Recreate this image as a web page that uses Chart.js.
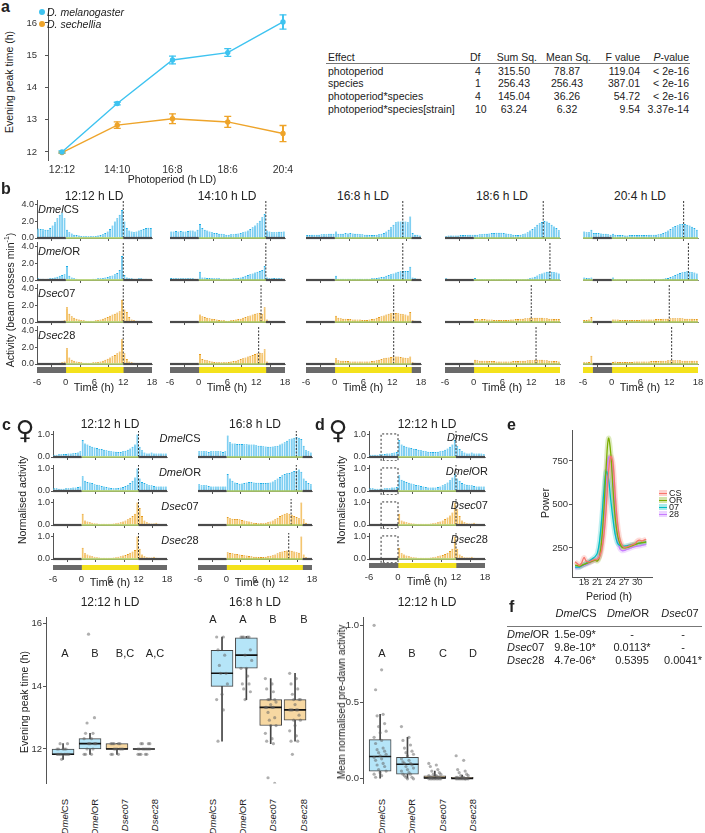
<!DOCTYPE html>
<html>
<head>
<meta charset="utf-8">
<script src="https://cdn.jsdelivr.net/npm/chart.js@4.4.1/dist/chart.umd.min.js"></script>
<style>
  body{margin:0;width:705px;height:833px;position:relative;overflow:hidden;background:#fff;
       font-family:"Liberation Sans",Arial,sans-serif;color:#222}
  canvas{position:absolute}
  .t{position:absolute;white-space:nowrap;line-height:1}
  .v{position:absolute;white-space:nowrap;line-height:1;writing-mode:vertical-rl}
</style>
</head>
<body>
<script>
/* ===========================
   DATA : PANEL A
=========================== */
const photoperiods = ['12:12','14:10','16:8','18:6','20:4'];
const melPeak = [12.0, 13.5, 14.85, 15.08, 16.03];
const melSem  = [0.03, 0.04, 0.12, 0.12, 0.22];
const secPeak = [11.98, 12.83, 13.03, 12.93, 12.57];
const secSem  = [0.02, 0.10, 0.15, 0.17, 0.25];

const anovaRows = [
  ['photoperiod','4','315.50','78.87','119.04','&lt; 2e-16'],
  ['species','1','256.43','256.43','387.01','&lt; 2e-16'],
  ['photoperiod*species','4','145.04','36.26','54.72','&lt; 2e-16'],
  ['photoperiod*species[strain]','10','63.24','6.32','9.54','3.37e-14']
];

/* ===========================
   DATA : PANEL B (30 min bins, -6 h .. 18 h)
=========================== */
const strains = ['<i>Dmel</i>CS','<i>Dmel</i>OR','<i>Dsec</i>07','<i>Dsec</i>28'];
const timeTicks = [-6, 0, 6, 12, 18];
const binMid = Array.from({length: 48}, (_, i) => -5.75 + i * 0.5);

const bCS12 = [1.15,1.1,1.05,1.0,1.0,1.2,1.5,1.9,2.4,2.8,3.0,2.4, 1.0,0.7,0.55,0.4,0.35,0.3,0.25,0.2,0.2,0.2,0.2,0.2, 0.25,0.3,0.35,0.45,0.6,0.8,1.1,1.5,2.0,2.4,2.8,3.4, 2.0,1.2,0.9,0.8,0.7,0.8,0.9,1.0,1.1,1.2,1.25,1.2];
const bCS14 = [0.8,0.8,0.85,0.8,0.85,0.8,0.8,0.85,0.9,0.9,0.8,1.0, 1.7,1.2,1.0,0.9,0.8,0.7,0.6,0.6,0.5,0.5,0.45,0.4, 0.4,0.45,0.45,0.5,0.55,0.6,0.7,0.8,0.9,1.1,1.3,1.5, 1.8,2.1,2.5,2.9,0.9,0.8,0.7,0.7,0.7,0.75,0.75,0.8];
const bCS16 = [0.35,0.35,0.4,0.4,0.4,0.4,0.45,0.45,0.45,0.5,0.5,0.5, 0.8,0.5,0.5,0.5,0.6,0.55,0.6,0.55,0.5,0.5,0.45,0.45, 0.4,0.4,0.35,0.35,0.35,0.4,0.45,0.5,0.6,0.8,1.0,1.3, 1.6,1.9,2.0,2.0,2.0,2.0,1.9,2.6,0.6,0.4,0.4,0.3];
const bCS18 = [0.2,0.3,0.3,0.3,0.3,0.3,0.35,0.35,0.35,0.4,0.4,0.4, 0.4,0.4,0.45,0.45,0.5,0.5,0.55,0.6,0.6,0.65,0.65,0.65, 0.6,0.55,0.5,0.45,0.4,0.35,0.35,0.4,0.45,0.55,0.7,0.9, 1.1,1.3,1.6,1.8,1.95,2.05,2.0,1.85,1.6,1.4,1.2,0.95];
const bCS20 = [0.8,0.7,0.7,1.0,0.6,0.6,0.6,0.55,0.5,0.5,0.45,0.4, 0.5,0.4,0.35,0.35,0.35,0.3,0.3,0.35,0.35,0.35,0.35,0.35, 0.35,0.35,0.35,0.4,0.4,0.4,0.4,0.45,0.5,0.6,0.75,0.9, 1.1,1.3,1.45,1.55,1.65,1.7,1.7,1.6,1.5,1.35,1.2,1.0];

const bOR12 = [0.2,0.15,0.15,0.1,0.15,0.2,0.25,0.3,0.4,0.5,0.6,0.7, 1.7,0.5,0.3,0.2,0.15,0.1,0.1,0.1,0.1,0.1,0.1,0.15, 0.15,0.2,0.2,0.25,0.3,0.35,0.45,0.55,0.7,0.85,1.2,2.9, 0.6,0.3,0.2,0.2,0.15,0.15,0.2,0.2,0.15,0.15,0.1,0.1];
const bOR14 = [0.25,0.2,0.2,0.2,0.2,0.2,0.2,0.2,0.2,0.2,0.15,0.15, 1.0,0.3,0.3,0.25,0.25,0.2,0.2,0.2,0.2,0.15,0.15,0.15, 0.15,0.15,0.2,0.2,0.25,0.3,0.4,0.5,0.6,0.7,0.8,0.9, 1.0,1.1,1.2,1.7,0.3,0.2,0.2,0.25,0.2,0.2,0.2,0.15];
const bOR16 = [0.1,0.1,0.1,0.1,0.1,0.1,0.1,0.1,0.1,0.1,0.1,0.1, 0.5,0.15,0.15,0.15,0.15,0.15,0.15,0.15,0.15,0.15,0.15,0.15, 0.15,0.15,0.15,0.2,0.2,0.25,0.3,0.35,0.4,0.5,0.6,0.7, 0.8,0.9,1.0,1.05,1.1,1.1,1.1,1.6,0.3,0.2,0.15,0.1];
const bOR18 = [0.2,0.05,0.05,0.05,0.05,0.05,0.05,0.05,0.05,0.05,0.05,0.05, 0.25,0.1,0.1,0.1,0.1,0.1,0.1,0.1,0.1,0.1,0.1,0.1, 0.1,0.1,0.1,0.1,0.1,0.1,0.1,0.1,0.1,0.1,0.15,0.2, 0.3,0.4,0.55,0.7,0.8,0.9,1.0,1.0,1.0,0.95,0.9,0.8];
const bOR20 = [0.3,0.25,0.2,0.3,0.1,0.1,0.1,0.1,0.1,0.1,0.1,0.1, 0.3,0.1,0.1,0.1,0.1,0.1,0.1,0.1,0.1,0.1,0.1,0.1, 0.1,0.1,0.1,0.1,0.1,0.1,0.1,0.1,0.1,0.15,0.2,0.25, 0.35,0.45,0.6,0.75,0.85,0.95,1.0,1.05,1.0,0.95,0.9,0.8];

const bS07_12 = [0.1,0.1,0.1,0.1,0.1,0.1,0.1,0.1,0.1,0.1,0.15,0.2, 1.8,1.0,0.7,0.5,0.4,0.3,0.25,0.2,0.15,0.15,0.15,0.15, 0.2,0.25,0.3,0.4,0.5,0.6,0.75,0.9,1.0,1.15,1.3,2.7, 1.5,1.2,0.6,0.3,0.2,0.15,0.1,0.1,0.1,0.1,0.1,0.1];
const bS07_14 = [0.1,0.1,0.1,0.1,0.1,0.1,0.1,0.1,0.1,0.1,0.1,0.1, 0.9,0.7,0.6,0.5,0.45,0.4,0.35,0.3,0.25,0.2,0.2,0.15, 0.15,0.2,0.25,0.3,0.35,0.4,0.5,0.6,0.7,0.8,0.9,1.0, 1.05,1.1,1.0,1.8,0.3,0.15,0.1,0.1,0.1,0.1,0.1,0.1];
const bS07_16 = [0.1,0.1,0.1,0.1,0.1,0.1,0.1,0.1,0.1,0.1,0.1,0.1, 0.75,0.5,0.45,0.4,0.4,0.35,0.35,0.3,0.3,0.3,0.3,0.25, 0.25,0.25,0.3,0.35,0.4,0.5,0.6,0.7,0.8,0.9,1.0,1.05, 1.1,1.1,1.05,1.0,0.95,0.9,0.8,1.2,0.2,0.15,0.1,0.1];
const bS07_18 = [0.1,0.05,0.05,0.05,0.05,0.05,0.05,0.05,0.05,0.05,0.05,0.05, 0.35,0.35,0.3,0.35,0.35,0.3,0.3,0.3,0.25,0.25,0.25,0.25, 0.25,0.25,0.25,0.3,0.3,0.35,0.35,0.4,0.4,0.45,0.45,0.5, 0.5,0.5,0.5,0.5,0.5,0.45,0.45,0.4,0.4,0.35,0.35,0.35];
const bS07_20 = [0.25,0.25,0.3,0.6,0.05,0.05,0.05,0.05,0.05,0.05,0.05,0.05, 0.3,0.3,0.3,0.25,0.25,0.25,0.25,0.25,0.25,0.25,0.25,0.25, 0.3,0.3,0.3,0.3,0.3,0.3,0.35,0.35,0.35,0.4,0.4,0.4, 0.45,0.45,0.45,0.45,0.45,0.45,0.4,0.4,0.4,0.4,0.35,0.35];

const bS28_12 = [0.1,0.1,0.1,0.1,0.1,0.1,0.1,0.1,0.1,0.15,0.2,0.3, 1.9,0.8,0.5,0.4,0.3,0.25,0.2,0.15,0.15,0.15,0.15,0.2, 0.2,0.25,0.3,0.4,0.5,0.65,0.8,0.95,1.1,1.3,1.5,3.0, 1.3,0.6,0.3,0.2,0.15,0.1,0.1,0.1,0.1,0.1,0.1,0.1];
const bS28_14 = [0.1,0.1,0.1,0.1,0.1,0.1,0.1,0.1,0.1,0.1,0.1,0.15, 1.2,0.6,0.5,0.45,0.4,0.3,0.25,0.2,0.2,0.2,0.2,0.2, 0.25,0.3,0.35,0.4,0.5,0.6,0.7,0.8,0.9,1.0,1.1,1.2, 1.3,1.35,1.3,1.8,0.3,0.15,0.1,0.1,0.1,0.1,0.1,0.1];
const bS28_16 = [0.1,0.1,0.1,0.1,0.1,0.1,0.1,0.1,0.1,0.1,0.1,0.1, 0.7,0.45,0.4,0.4,0.35,0.35,0.3,0.3,0.3,0.3,0.3,0.3, 0.3,0.3,0.3,0.35,0.4,0.45,0.5,0.6,0.7,0.75,0.8,0.85, 0.9,0.9,0.9,0.85,0.8,0.75,0.7,0.9,0.2,0.15,0.1,0.1];
const bS28_18 = [0.1,0.1,0.1,0.1,0.1,0.1,0.1,0.1,0.1,0.1,0.1,0.1, 0.5,0.45,0.4,0.4,0.4,0.4,0.35,0.35,0.35,0.3,0.3,0.3, 0.3,0.3,0.3,0.3,0.35,0.35,0.35,0.4,0.4,0.4,0.45,0.45, 0.45,0.5,0.5,0.5,0.5,0.45,0.45,0.4,0.4,0.35,0.35,0.3];
const bS28_20 = [0.2,0.2,0.25,1.0,0.05,0.05,0.05,0.05,0.05,0.05,0.05,0.05, 0.25,0.3,0.25,0.25,0.25,0.25,0.25,0.25,0.25,0.3,0.3,0.3, 0.3,0.3,0.3,0.3,0.35,0.35,0.35,0.35,0.4,0.4,0.4,0.45, 0.45,0.45,0.45,0.45,0.45,0.4,0.4,0.4,0.4,0.4,0.4,0.4];

// evening peak (dashed line), one array per strain, one value per photoperiod
const bPeakCS = [12, 14.0, 14.2, 14.5, 15.0];
const bPeakOR = [12, 14.0, 14.2, 15.9, 16.0];
const bPeak07 = [12, 13.0, 12.3, 12.0, 12.0];
const bPeak28 = [12, 12.5, 12.3, 13.0, 12.5];

// light (1) / dark (0) segments
const ldSegs = {
  '12:12': [[-6,0,0],[0,12,1],[12,18,0]],
  '14:10': [[-6,0,0],[0,14,1],[14,18,0]],
  '16:8':  [[-6,0,0],[0,16,1],[16,18,0]],
  '18:6':  [[-6,0,0],[0,18,1]],
  '20:4':  [[-6,-4,1],[-4,0,0],[0,18,1]]
};

/* ===========================
   DATA : PANEL C / D (normalised, females)
=========================== */
const cCS12 = [0.1,0.1,0.12,0.12,0.13,0.13,0.15,0.15,0.17,0.18,0.2,0.25, 0.75,0.6,0.55,0.5,0.45,0.42,0.4,0.37,0.35,0.32,0.3,0.28, 0.25,0.24,0.23,0.22,0.22,0.25,0.28,0.32,0.38,0.45,0.55,1.0, 0.45,0.3,0.2,0.15,0.15,0.2,0.15,0.15,0.15,0.15,0.15,0.15];
const cOR12 = [0.12,0.12,0.1,0.1,0.1,0.12,0.12,0.12,0.15,0.15,0.18,0.2, 0.65,0.45,0.4,0.38,0.35,0.3,0.28,0.25,0.22,0.2,0.18,0.15, 0.13,0.12,0.12,0.13,0.15,0.18,0.22,0.28,0.35,0.45,0.6,1.0, 0.55,0.4,0.35,0.3,0.25,0.25,0.22,0.2,0.2,0.2,0.2,0.2];
const c07_12 = [0.03,0.03,0.03,0.03,0.03,0.03,0.03,0.03,0.03,0.03,0.03,0.03, 0.5,0.2,0.15,0.12,0.1,0.08,0.07,0.06,0.05,0.05,0.05,0.05, 0.06,0.07,0.08,0.1,0.12,0.15,0.2,0.25,0.32,0.4,0.5,1.0, 0.75,0.4,0.2,0.12,0.08,0.07,0.07,0.1,0.05,0.04,0.03,0.03];
const c28_12 = [0.03,0.03,0.03,0.03,0.03,0.03,0.03,0.03,0.03,0.03,0.04,0.05, 0.5,0.25,0.2,0.15,0.12,0.1,0.08,0.07,0.06,0.05,0.05,0.05, 0.06,0.07,0.08,0.1,0.12,0.15,0.18,0.22,0.28,0.33,0.4,1.0, 0.45,0.2,0.12,0.08,0.07,0.07,0.1,0.05,0.04,0.03,0.03,0.03];
const cCS16 = [0.25,0.25,0.25,0.25,0.22,0.25,0.25,0.25,0.25,0.25,0.22,0.25, 0.95,0.65,0.6,0.6,0.58,0.58,0.57,0.56,0.56,0.55,0.55,0.55, 0.52,0.5,0.5,0.48,0.46,0.45,0.45,0.46,0.48,0.5,0.55,0.6, 0.65,0.72,0.78,0.82,0.85,0.88,0.85,0.8,0.5,0.3,0.25,0.2];
const cOR16 = [0.3,0.25,0.25,0.25,0.22,0.2,0.2,0.2,0.2,0.2,0.2,0.2, 0.75,0.55,0.45,0.38,0.35,0.32,0.33,0.35,0.38,0.4,0.4,0.38, 0.37,0.36,0.35,0.35,0.35,0.36,0.38,0.42,0.48,0.55,0.62,0.7, 0.75,0.78,0.8,0.85,0.88,0.9,0.95,0.85,0.55,0.45,0.35,0.3];
const c07_16 = [0.03,0.03,0.03,0.03,0.03,0.03,0.03,0.03,0.03,0.03,0.03,0.03, 0.35,0.3,0.28,0.27,0.27,0.25,0.22,0.2,0.17,0.15,0.12,0.1, 0.09,0.08,0.08,0.08,0.1,0.12,0.15,0.2,0.25,0.32,0.4,0.45, 0.5,0.52,0.5,0.45,0.4,0.35,0.3,1.0,0.25,0.1,0.05,0.03];
const c28_16 = [0.04,0.04,0.04,0.04,0.04,0.04,0.04,0.04,0.04,0.04,0.04,0.04, 0.3,0.27,0.25,0.23,0.22,0.2,0.18,0.17,0.15,0.13,0.12,0.1, 0.1,0.09,0.09,0.09,0.1,0.12,0.14,0.17,0.2,0.25,0.3,0.33, 0.35,0.38,0.38,0.36,0.33,0.3,0.28,1.0,0.2,0.08,0.05,0.04];
const cPeak12 = [12, 12, 12, 12];
const cPeak16 = [14.7, 14.7, 13.6, 13.1];

const dCS12 = [0.1,0.1,0.1,0.1,0.12,0.12,0.13,0.15,0.15,0.17,0.2,0.22, 0.75,0.55,0.5,0.45,0.42,0.4,0.37,0.35,0.32,0.3,0.28,0.25, 0.23,0.22,0.22,0.22,0.23,0.25,0.28,0.32,0.38,0.45,0.55,0.75, 0.5,0.35,0.25,0.2,0.15,0.15,0.2,0.15,0.15,0.15,0.15,0.12];
const dOR12 = [0.12,0.12,0.1,0.1,0.1,0.1,0.12,0.12,0.12,0.15,0.15,0.18, 0.7,0.5,0.45,0.4,0.37,0.33,0.3,0.27,0.25,0.22,0.2,0.18, 0.16,0.15,0.15,0.16,0.18,0.2,0.25,0.3,0.38,0.48,0.6,0.75, 0.55,0.45,0.35,0.3,0.28,0.25,0.25,0.22,0.2,0.2,0.2,0.2];
const d07_12 = [0.03,0.03,0.03,0.03,0.03,0.03,0.03,0.03,0.03,0.03,0.03,0.03, 0.5,0.2,0.15,0.12,0.1,0.08,0.07,0.06,0.05,0.05,0.05,0.05, 0.06,0.07,0.08,0.1,0.12,0.15,0.2,0.26,0.33,0.42,0.55,1.0, 0.7,0.4,0.2,0.12,0.08,0.07,0.07,0.1,0.05,0.04,0.03,0.03];
const d28_12 = [0.03,0.03,0.03,0.03,0.03,0.03,0.03,0.03,0.03,0.03,0.04,0.05, 0.5,0.25,0.2,0.15,0.12,0.1,0.08,0.07,0.06,0.05,0.05,0.05, 0.06,0.07,0.08,0.1,0.12,0.15,0.18,0.22,0.28,0.35,0.45,1.0, 0.45,0.2,0.12,0.08,0.07,0.07,0.1,0.05,0.04,0.03,0.03,0.03];
const preDawn = [-3.5, 0];

/* ===========================
   DATA : BOXPLOTS  [lower whisker, q1, median, q3, upper whisker]
=========================== */
const boxCats = ['<i>Dmel</i>CS','<i>Dmel</i>OR','<i>Dsec</i>07','<i>Dsec</i>28'];
const box12Stats = [[11.67,11.83,11.83,12.0,12.17],[11.83,12.0,12.17,12.33,12.5],[11.83,12.0,12.0,12.17,12.17],[12.0,12.0,12.0,12.0,12.0]];
const box12Pts = [
  [11.83,11.83,11.83,11.83,11.83,11.83,11.83,11.83,12.0,12.0,12.0,12.0,12.0,12.17,12.17,11.67],
  [11.83,11.83,11.83,12.0,12.0,12.17,12.17,12.17,12.17,12.33,12.33,12.5,12.5,12.83,13.0,15.67],
  [11.83,11.83,11.83,12.0,12.0,12.0,12.0,12.0,12.0,12.17,12.17,12.17,12.17,12.17],
  [11.83,11.83,11.83,11.83,11.83,12.0,12.0,12.0,12.0,12.0,12.0,12.0,12.0,12.17,12.17,12.17,12.17]
];
const box12Letters = ['A','B','B,C','A,C'];
const box16Stats = [[12.25,14.0,14.42,15.15,15.58],[13.58,14.58,15.0,15.55,15.6],[12.17,12.75,13.33,13.58,14.25],[12.25,12.92,13.25,13.58,14.42]];
const box16Pts = [
  [15.58,15.58,15.17,15.0,14.67,14.42,14.42,14.08,13.75,13.58,13.25,12.25],
  [15.58,15.58,15.58,15.58,15.58,15.17,15.0,14.83,14.58,14.58,14.33,14.08,14.08,13.92,13.83,13.58],
  [14.25,14.08,13.92,13.83,13.58,13.58,13.58,13.5,13.42,13.33,13.33,13.33,13.33,13.17,13.0,12.92,12.75,12.75,12.5,12.33,12.25,12.17,11.08,10.9],
  [14.42,14.25,14.08,13.92,13.75,13.58,13.58,13.58,13.42,13.25,13.25,13.25,13.25,13.25,13.08,12.92,12.92,12.75,12.58,12.42,12.25,12.25,11.83]
];
const box16Letters = ['A','A','B','B'];
const dawnStats = [[0.0,0.05,0.145,0.255,0.42],[0.0,0.03,0.095,0.14,0.27],[0.0,0.0,0.005,0.02,0.05],[0.0,0.0,0.003,0.01,0.025]];
const dawnPts = [
  [1.0,0.71,0.58,0.42,0.41,0.36,0.34,0.31,0.3,0.27,0.25,0.23,0.2,0.19,0.18,0.17,0.16,0.15,0.14,0.13,0.12,0.1,0.09,0.08,0.06,0.05,0.04,0.03,0.02,0.01],
  [0.34,0.27,0.25,0.22,0.2,0.18,0.17,0.16,0.15,0.13,0.12,0.11,0.1,0.1,0.09,0.08,0.07,0.06,0.05,0.04,0.03,0.03,0.02,0.01,0.01,0.0,0.0],
  [0.1,0.09,0.08,0.06,0.05,0.04,0.03,0.03,0.02,0.02,0.02,0.01,0.01,0.01,0.01,0.0,0.0,0.0,0.0,0.0,0.0,0.0,0.0,0.0],
  [0.15,0.12,0.06,0.05,0.04,0.03,0.02,0.02,0.01,0.01,0.01,0.01,0.0,0.0,0.0,0.0,0.0,0.0,0.0,0.0,0.0,0.0]
];
const dawnLetters = ['A','B','C','D'];

/* ===========================
   DATA : PANEL E (periodogram)
=========================== */
const period = [16,16.5,17,17.5,18,18.5,19,19.5,20,20.5,21,21.5,22,22.5,23,23.5,24,24.5,25,25.5,26,26.5,27,27.5,28,28.5,29,29.5,30,30.5,31,31.5,32];
const powCS = [170,160,150,165,195,175,170,175,180,183,185,200,240,330,480,680,775,740,560,400,310,270,255,255,260,265,270,275,290,295,290,295,300];
const powOR = [150,148,145,150,155,160,165,170,175,180,175,200,300,480,720,880,800,600,430,330,280,255,250,252,255,260,265,270,275,278,280,282,285];
const pow07 = [140,140,140,148,155,162,170,180,190,200,220,290,420,580,690,650,530,420,330,280,265,260,260,262,265,268,270,272,275,278,280,282,285];
const pow28 = [135,137,140,145,150,155,160,168,175,180,185,210,280,430,640,770,770,650,460,320,250,235,235,240,245,250,255,258,260,262,265,268,270];

/* ===========================
   DATA : PANEL F
=========================== */
const fCols = ['<i>Dmel</i>CS','<i>Dmel</i>OR','<i>Dsec</i>07'];
const fRows = [
  ['<i>Dmel</i>OR','1.5e-09*','-','-'],
  ['<i>Dsec</i>07','9.8e-10*','0.0113*','-'],
  ['<i>Dsec</i>28','4.7e-06*','0.5395','0.0041*']
];

/* ===========================
   STYLE
=========================== */
Chart.defaults.font.family = '"Liberation Sans", Arial, sans-serif';
Chart.defaults.color = '#333';
const AX = '#555';
const MEL = '#3ec3f0', SEC = '#eea42a';
const BLUE = {fill: '#7fcff2', edge: '#1fafe6', box: '#b5e5f8'};
const ORNG = {fill: '#f4c56f', edge: '#e59a1c', box: '#f7d8a2'};
const DARK = '#6a6a6a', LIGHT = '#f4e21c';
const BASE_DARK = '#4a4a4a', BASE_LIGHT = '#a9c95b';
const eCols = ['#F8766D','#7CAE00','#00BFC4','#C77CFF'];

/* ===========================
   HELPERS
=========================== */
function T(html, x, y, o){
    o = o || {};
    const d = document.createElement('div');
    d.className = 't';
    d.innerHTML = html;
    d.style.left = x + 'px';
    d.style.top = y + 'px';
    d.style.fontSize = (o.s || 11) + 'px';
    if(o.b) d.style.fontWeight = 'bold';
    if(o.i) d.style.fontStyle = 'italic';
    if(o.f) d.style.fontFamily = o.f;
    const tx = o.a === 'l' ? '0' : (o.a === 'r' ? '-100%' : '-50%');
    d.style.transform = 'translate(' + tx + ',-50%)' + (o.rot ? ' rotate(-90deg)' : '');
    document.body.appendChild(d);
    return d;
}

// vertical label reading bottom-to-top, its end at y
function V(html, x, y, s){
    const d = document.createElement('div');
    d.className = 'v';
    d.innerHTML = html;
    d.style.left = x + 'px';
    d.style.top = y + 'px';
    d.style.fontSize = (s || 11) + 'px';
    d.style.transform = 'translate(-50%,0) rotate(180deg)';
    document.body.appendChild(d);
}

function fixTicks(list){
    return s => { s.ticks = list.map(v => ({value: v})); };
}

function makeChart(ax, ay, aw, ah, cfg, o){
    o = Object.assign({yW: 0, xH: 0, pl: 0, pr: 0, pt: 0, pb: 0}, o);
    const cv = document.createElement('canvas');
    cv.width = o.pl + o.yW + aw + o.pr;
    cv.height = o.pt + ah + o.xH + o.pb;
    cv.style.left = (ax - o.pl - o.yW) + 'px';
    cv.style.top = (ay - o.pt) + 'px';
    document.body.appendChild(cv);
    const op = cfg.options;
    op.responsive = false;
    op.animation = false;
    op.layout = {padding: {left: o.pl, right: o.pr, top: o.pt, bottom: o.pb}};
    op.plugins = {legend: {display: false}, tooltip: {enabled: false}};
    op.scales.x.offset = false;
    op.scales.x.afterFit = s => { s.height = o.xH; s.paddingLeft = 0; s.paddingRight = 0; };
    op.scales.y.afterFit = s => { s.width = o.yW; s.paddingTop = 0; s.paddingBottom = 0; };
    return new Chart(cv, cfg);
}

/* ===========================
   ACTIVITY HISTOGRAM
=========================== */
function histo(ax, base, aw, ah, vals, ymax, yTicks, showY, peak, col, segs, box){
    const ds = [];
    // baseline coloured by light / dark phase
    segs.forEach(s => ds.push({
        type: 'line',
        data: [{x: s[0], y: 0}, {x: s[1], y: 0}],
        borderColor: s[2] ? BASE_LIGHT : BASE_DARK,
        borderWidth: s[2] ? 1.5 : 2.2, pointRadius: 0, clip: false
    }));
    if(box){
        ds.push({
            type: 'line',
            data: [{x: box[0], y: -0.17}, {x: box[0], y: 1.02}, {x: box[1], y: 1.02}, {x: box[1], y: -0.17}, {x: box[0], y: -0.17}],
            borderColor: '#333', borderWidth: 1, borderDash: [2, 2], pointRadius: 0, clip: false
        });
    }
    ds.push({
        type: 'line',
        data: [{x: peak, y: 0}, {x: peak, y: ymax}],
        borderColor: '#333', borderWidth: 1, borderDash: [2, 1.5], pointRadius: 0
    });
    ds.push({
        type: 'bar',
        data: vals.map((v, i) => ({x: binMid[i], y: v})),
        backgroundColor: col.fill,
        borderColor: col.edge,
        borderWidth: {top: 1, left: 0, right: 0, bottom: 0},
        borderSkipped: false,
        barPercentage: 0.88,
        categoryPercentage: 1
    });
    return makeChart(ax, base - ah, aw, ah, {
        type: 'bar',
        data: {datasets: ds},
        options: {
            scales: {
                x: {
                    type: 'linear', min: -6, max: 18,
                    afterBuildTicks: fixTicks(timeTicks),
                    ticks: {display: false},
                    grid: {drawOnChartArea: false, tickLength: 3, color: AX},
                    border: {color: '#888'}
                },
                y: {
                    display: showY, min: 0, max: ymax,
                    afterBuildTicks: fixTicks(yTicks),
                    ticks: {font: {size: 9, lineHeight: 1}, padding: 1, callback: v => v.toFixed(1)},
                    grid: {drawOnChartArea: false, tickLength: 2, color: AX},
                    border: {color: AX}
                }
            }
        }
    }, {yW: showY ? 20 : 0, xH: 4, pr: 1});
}

/* ===========================
   LIGHT / DARK BAR
=========================== */
function ldBar(ax, ay, aw, ah, segs){
    return makeChart(ax, ay, aw, ah, {
        type: 'bar',
        data: {
            labels: ['LD'],
            datasets: segs.map(s => ({
                data: [[s[0], s[1]]],
                backgroundColor: s[2] ? LIGHT : DARK,
                grouped: false, barPercentage: 1, categoryPercentage: 1, borderWidth: 0
            }))
        },
        options: {
            indexAxis: 'y',
            scales: {
                x: {
                    type: 'linear', min: -6, max: 18,
                    afterBuildTicks: fixTicks(timeTicks),
                    ticks: {font: {size: 9.5, lineHeight: 1}, padding: -3, maxRotation: 0, color: '#333'},
                    grid: {display: false},
                    border: {display: false}
                },
                y: {display: false}
            }
        }
    }, {xH: 12, pl: 8, pr: 8});
}

/* ===========================
   BOXPLOT
=========================== */
function jit(j){
    return (((j * 5) % 9) - 4) * 0.055;
}

function boxChart(ax, ay, aw, ah, xr, yr, stats, pts, fills, yTicks, fmt){
    const ds = [
        {
            type: 'scatter',
            data: pts.flatMap((g, i) => g.map((v, j) => ({x: i + jit(j), y: v}))),
            backgroundColor: 'rgba(95,95,95,0.5)', borderWidth: 0, pointRadius: 1.6
        },
        {
            type: 'scatter',
            data: stats.map((s, i) => ({x: i, y: s[2]})),
            pointStyle: 'line', pointRadius: 11, borderColor: '#111', borderWidth: 1.6
        },
        {
            type: 'bar',
            data: stats.map((s, i) => ({x: i, y: [s[1], s[3]]})),
            backgroundColor: fills, borderColor: '#444', borderWidth: 1, borderSkipped: false,
            barThickness: 22, grouped: false
        },
        {
            type: 'bar',
            data: stats.map((s, i) => ({x: i, y: [s[0], s[4]]})),
            backgroundColor: '#444', barThickness: 1, grouped: false
        }
    ];
    return makeChart(ax, ay, aw, ah, {
        type: 'bar',
        data: {datasets: ds},
        options: {
            scales: {
                x: {type: 'linear', min: xr[0], max: xr[1], display: false},
                y: {
                    display: !!yTicks, min: yr[0], max: yr[1],
                    afterBuildTicks: fixTicks(yTicks || []),
                    ticks: {font: {size: 9.5, lineHeight: 1}, padding: 1, callback: fmt},
                    grid: {drawOnChartArea: false, tickLength: 3, color: AX},
                    border: {color: AX}
                }
            }
        }
    }, {yW: yTicks ? 22 : 0, xH: 0});
}

/* ===========================
   PANEL A
=========================== */
T('a', 1, 7, {s: 16, b: true, a: 'l'});
makeChart(48, 3, 244, 157, {
    type: 'line',
    data: {datasets: [
        {type: 'line', data: melPeak.map((v, i) => ({x: i, y: v})), borderColor: MEL, backgroundColor: MEL, borderWidth: 1.4, pointRadius: 2},
        {type: 'line', data: secPeak.map((v, i) => ({x: i, y: v})), borderColor: SEC, backgroundColor: SEC, borderWidth: 1.4, pointRadius: 2},
        {type: 'scatter', data: melPeak.flatMap((v, i) => [{x: i, y: v - melSem[i]}, {x: i, y: v + melSem[i]}]), pointStyle: 'line', pointRadius: 3.5, borderColor: MEL, borderWidth: 1.3},
        {type: 'scatter', data: secPeak.flatMap((v, i) => [{x: i, y: v - secSem[i]}, {x: i, y: v + secSem[i]}]), pointStyle: 'line', pointRadius: 3.5, borderColor: SEC, borderWidth: 1.3},
        {type: 'bar', data: melPeak.map((v, i) => ({x: i, y: [v - melSem[i], v + melSem[i]]})), backgroundColor: MEL, barThickness: 1.3, grouped: false},
        {type: 'bar', data: secPeak.map((v, i) => ({x: i, y: [v - secSem[i], v + secSem[i]]})), backgroundColor: SEC, barThickness: 1.3, grouped: false}
    ]},
    options: {
        scales: {
            x: {
                type: 'linear', min: -0.253, max: 4.163,
                afterBuildTicks: fixTicks([0, 1, 2, 3, 4]),
                ticks: {callback: v => photoperiods[v], font: {size: 10.5, lineHeight: 1}, padding: -3, color: '#333'},
                grid: {display: false}, border: {display: false}
            },
            y: {
                min: 11.75, max: 16.45,
                afterBuildTicks: fixTicks([12, 13, 14, 15, 16]),
                ticks: {font: {size: 9.5, lineHeight: 1}, padding: 8},
                grid: {drawOnChartArea: false, tickLength: 3, color: AX},
                border: {color: AX}
            }
        }
    }
}, {yW: 28, xH: 14, pr: 14});
T('Evening peak time (h)', 9, 82, {s: 10.5, rot: true});
T('Photoperiod (h LD)', 172, 179, {s: 10.5});
[[MEL, '<i>D. melanogaster</i>', 12], [SEC, '<i>D. sechellia</i>', 24]].forEach(([c, txt, y]) => {
    const dot = document.createElement('div');
    dot.style.cssText = 'position:absolute;width:6px;height:6px;border-radius:3px;left:39px;top:' + (y - 3) + 'px;background:' + c;
    document.body.appendChild(dot);
    T(txt, 47, y, {s: 10.5, a: 'l'});
});

// ANOVA table
const aHeadY = 57, aRowY = [70.5, 83, 96, 108.5];
T('Effect', 328, aHeadY, {a: 'l', s: 10.5});
T('Df', 470, aHeadY, {a: 'l', s: 10.5});
T('Sum Sq.', 537, aHeadY, {a: 'r', s: 10.5});
T('Mean Sq.', 591, aHeadY, {a: 'r', s: 10.5});
T('F value', 640, aHeadY, {a: 'r', s: 10.5});
T('<i>P</i>-value', 689, aHeadY, {a: 'r', s: 10.5});
const aLine = document.createElement('div');
aLine.style.cssText = 'position:absolute;left:326px;top:63px;width:364px;height:1px;background:#777';
document.body.appendChild(aLine);
anovaRows.forEach((r, k) => {
    const y = aRowY[k];
    T(r[0], 328, y, {a: 'l', s: 10.5});
    T(r[1], 475, y, {a: 'l', s: 10.5});
    T(r[2], 514, y, {s: 10.5});
    T(r[3], 567, y, {s: 10.5});
    T(r[4], 640, y, {a: 'r', s: 10.5});
    T(r[5], 689, y, {a: 'r', s: 10.5});
});

/* ===========================
   PANEL B
=========================== */
T('b', 1, 189, {s: 16, b: true, a: 'l'});
const bColX = [37, 170, 306, 445, 583];
const bBase = [238, 280, 322, 364];
const bRows = [
    [bCS12, bCS14, bCS16, bCS18, bCS20],
    [bOR12, bOR14, bOR16, bOR18, bOR20],
    [bS07_12, bS07_14, bS07_16, bS07_18, bS07_20],
    [bS28_12, bS28_14, bS28_16, bS28_18, bS28_20]
];
const bPeaks = [bPeakCS, bPeakOR, bPeak07, bPeak28];
photoperiods.forEach((p, k) => {
    T(p + ' h LD', bColX[k] + 57, 196, {s: 12});
    bRows.forEach((row, r) => {
        histo(bColX[k], bBase[r], 115, 38, row[k], 4.6, [0, 2, 4], k === 0, bPeaks[r][k], r < 2 ? BLUE : ORNG, ldSegs[p]);
    });
    ldBar(bColX[k], 367, 115, 6, ldSegs[p]);
    T('Time (h)', bColX[k] + 57, 387, {s: 11});
});
strains.forEach((s, r) => T(s, 38, bBase[r] - 29, {a: 'l', s: 11}));
T('Activity (beam crosses min<sup style="font-size:7px">-1</sup>)', 9, 300, {s: 10.5, rot: true});

/* ===========================
   PANEL C
=========================== */
T('c', 2, 425, {s: 16, b: true, a: 'l'});
T('\u2640', 25, 430, {s: 26, b: true, f: '"DejaVu Sans"'});
const cColX = [52.5, 198];
const cBase = [457, 491, 525, 559];
const cRows12 = [cCS12, cOR12, c07_12, c28_12];
const cRows16 = [cCS16, cOR16, c07_16, c28_16];
T('12:12 h LD', 110, 424, {s: 12});
T('16:8 h LD', 255, 424, {s: 12});
cBase.forEach((b, r) => {
    const col = r < 2 ? BLUE : ORNG;
    histo(cColX[0], b, 114.5, 26, cRows12[r], 1.15, [0, 0.5, 1], true, cPeak12[r], col, ldSegs['12:12']);
    histo(cColX[1], b, 114.5, 26, cRows16[r], 1.15, [0, 0.5, 1], false, cPeak16[r], col, ldSegs['16:8']);
    T(strains[r], 180, b - 19, {s: 11});
});
ldBar(cColX[0], 565, 114.5, 5, ldSegs['12:12']);
ldBar(cColX[1], 565, 114.5, 5, ldSegs['16:8']);
T('Time (h)', 110, 582, {s: 11});
T('Time (h)', 255, 582, {s: 11});
T('Normalised activity', 22, 500, {s: 10.5, rot: true});

/* ===========================
   PANEL D
=========================== */
T('d', 315, 425, {s: 16, b: true, a: 'l'});
T('\u2640', 338, 430, {s: 26, b: true, f: '"DejaVu Sans"'});
T('12:12 h LD', 427, 424, {s: 12});
const dRows = [dCS12, dOR12, d07_12, d28_12];
cBase.forEach((b, r) => {
    histo(369, b, 116, 26, dRows[r], 1.15, [0, 0.5, 1], true, 12, r < 2 ? BLUE : ORNG, ldSegs['12:12'], preDawn);
    T(strains[r], 488, b - 20, {a: 'r', s: 11});
});
ldBar(369, 563, 116, 5, ldSegs['12:12']);
T('Time (h)', 427, 581, {s: 11});
T('Normalised activity', 341, 500, {s: 10.5, rot: true});

/* ===========================
   BOXPLOTS (C / D bottom)
=========================== */
const bxTop = 605, bxH = 191;
T('12:12 h LD', 110, 602, {s: 12});
T('16:8 h LD', 255, 602, {s: 12});
boxChart(46, bxTop, 124, bxH, [-0.633, 3.5], [10.9, 16.2], box12Stats, box12Pts,
    [BLUE.box, BLUE.box, ORNG.box, ORNG.box], [12, 14, 16], v => v);
boxChart(195, bxTop, 127, bxH, [-0.593, 3.59], [10.9, 16.2], box16Stats, box16Pts,
    [BLUE.box, BLUE.box, ORNG.box, ORNG.box], null, v => v);
T('Evening peak time (h)', 24, 702, {s: 10.5, rot: true});
const x12 = [65, 95, 125, 155], x16 = [213, 243, 273, 304], xd = [382, 412, 443, 473];
box12Letters.forEach((l, i) => T(l, x12[i], 653, {s: 11}));
box16Letters.forEach((l, i) => T(l, x16[i], 619, {s: 11}));
boxCats.forEach((c, i) => { V(c, x12[i], 799, 9.5); V(c, x16[i], 799, 9.5); V(c, xd[i], 799, 9.5); });

T('12:12 h LD', 427, 602, {s: 12});
boxChart(363, bxTop, 129, bxH, [-0.626, 3.63], [-0.03, 1.05], dawnStats, dawnPts,
    [BLUE.box, BLUE.box, ORNG.box, ORNG.box], [0, 0.5, 1], v => v.toFixed(1));
dawnLetters.forEach((l, i) => T(l, xd[i], 653, {s: 11}));
T('Mean normalised pre-dawn activity', 342, 702, {s: 10, rot: true});

/* ===========================
   PANEL E
=========================== */
T('e', 507, 425, {s: 16, b: true, a: 'l'});
const eData = [powCS, powOR, pow07, pow28];
const eNames = ['CS', 'OR', '07', '28'];
const eSets = [];
eData.forEach((arr, k) => eSets.push({
    type: 'line', data: period.map((p, i) => ({x: p, y: arr[i]})),
    borderColor: eCols[k], borderWidth: 1.3, pointRadius: 0, tension: 0.4
}));
eData.forEach((arr, k) => eSets.push({
    type: 'line', data: period.map((p, i) => ({x: p, y: arr[i]})),
    borderColor: eCols[k] + '40', borderWidth: 5, pointRadius: 0, tension: 0.4
}));
makeChart(572, 430, 80, 147, {
    type: 'line',
    data: {datasets: eSets},
    options: {
        scales: {
            x: {
                type: 'linear', min: 15.3, max: 33.3,
                afterBuildTicks: fixTicks([18, 21, 24, 27, 30]),
                ticks: {font: {size: 9.5, lineHeight: 1}, padding: -2, maxRotation: 0},
                grid: {drawOnChartArea: false, tickLength: 3, color: AX},
                border: {color: AX}
            },
            y: {
                min: 83, max: 928,
                afterBuildTicks: fixTicks([250, 500, 750]),
                ticks: {font: {size: 9.5, lineHeight: 1}, padding: 1},
                grid: {drawOnChartArea: false, tickLength: 3, color: AX},
                border: {color: AX}
            }
        }
    }
}, {yW: 26, xH: 14, pr: 6});
T('Power', 545, 503, {s: 10.5, rot: true});
T('Period (h)', 609, 596, {s: 10.5});
eNames.forEach((n, k) => {
    const y = 493 + k * 7;
    const sw = document.createElement('div');
    sw.style.cssText = 'position:absolute;left:659px;top:' + (y - 3) + 'px;width:8px;height:6px;background:' + eCols[k] + '55';
    document.body.appendChild(sw);
    const ln = document.createElement('div');
    ln.style.cssText = 'position:absolute;left:659px;top:' + (y - 0.5) + 'px;width:8px;height:1.5px;background:' + eCols[k];
    document.body.appendChild(ln);
    T(n, 669, y, {a: 'l', s: 9});
});

/* ===========================
   PANEL F
=========================== */
T('f', 509, 607, {s: 16, b: true, a: 'l'});
const fColX = [576, 628, 680];
fCols.forEach((c, i) => T(c, fColX[i], 613, {s: 11}));
const fLine = document.createElement('div');
fLine.style.cssText = 'position:absolute;left:507px;top:626px;width:195px;height:1px;background:#777';
document.body.appendChild(fLine);
fRows.forEach((r, k) => {
    const y = 634 + k * 13;
    T(r[0], 507, y, {a: 'l', s: 11});
    T(r[1], 575, y, {s: 11});
    T(r[2], 632, y, {s: 11});
    T(r[3], 683, y, {s: 11});
});
</script>
</body>
</html>
